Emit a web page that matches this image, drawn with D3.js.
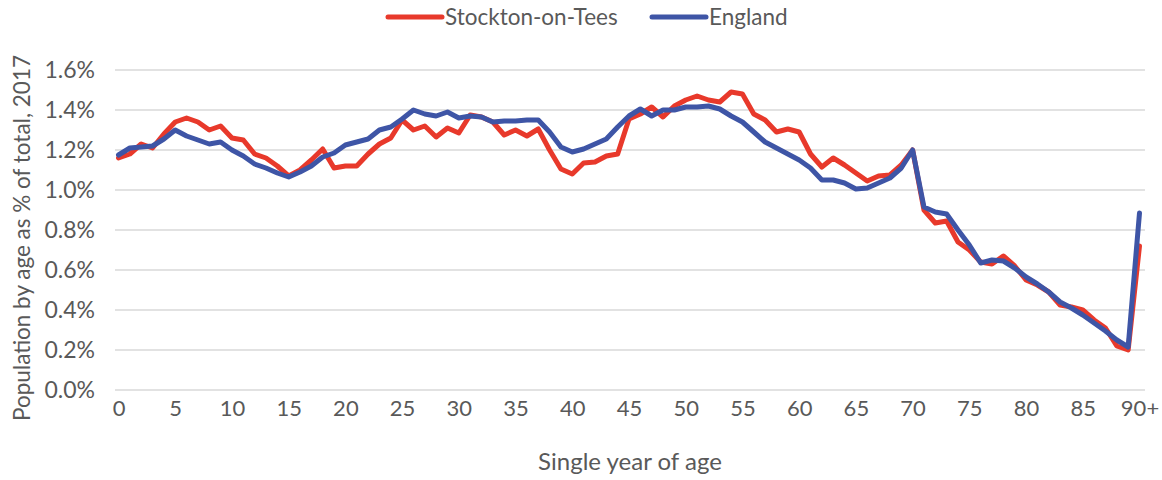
<!DOCTYPE html>
<html>
<head>
<meta charset="utf-8">
<script src="https://cdn.jsdelivr.net/npm/d3@7"></script>
<style>
  body { margin: 0; background: #fff; }
  text { font-family: Lato, "Open Sans", sans-serif; fill: #595959; }
</style>
</head>
<body>
<div id="chart"></div>
<script>
  // single year of age, 0 .. 90+
  var ages = d3.range(0, 91);

  var stockton = [
    1.16, 1.18, 1.23, 1.21, 1.28, 1.34, 1.36, 1.34, 1.30, 1.32,
    1.26, 1.25, 1.18, 1.16, 1.12, 1.07, 1.10, 1.15, 1.205, 1.11,
    1.12, 1.12, 1.18, 1.23, 1.26, 1.35, 1.30, 1.32, 1.265, 1.31,
    1.285, 1.375, 1.365, 1.34, 1.275, 1.30, 1.27, 1.305, 1.20, 1.105,
    1.08, 1.135, 1.14, 1.17, 1.18, 1.355, 1.38, 1.415, 1.365, 1.42,
    1.45, 1.47, 1.45, 1.44, 1.49, 1.48, 1.38, 1.35, 1.29, 1.305,
    1.29, 1.18, 1.115, 1.16, 1.125, 1.085, 1.045, 1.07, 1.075, 1.125,
    1.20, 0.90, 0.835, 0.845, 0.74, 0.70, 0.64, 0.63, 0.67, 0.62,
    0.55, 0.525, 0.49, 0.425, 0.415, 0.40, 0.35, 0.31, 0.22, 0.20,
    0.72
  ];

  var england = [
    1.175, 1.21, 1.215, 1.22, 1.255, 1.30, 1.27, 1.25, 1.23, 1.24,
    1.20, 1.17, 1.13, 1.11, 1.085, 1.065, 1.09, 1.12, 1.165, 1.185,
    1.225, 1.24, 1.255, 1.30, 1.315, 1.355, 1.40, 1.38, 1.37, 1.39,
    1.36, 1.37, 1.365, 1.34, 1.345, 1.345, 1.35, 1.35, 1.29, 1.215,
    1.19, 1.205, 1.23, 1.255, 1.315, 1.37, 1.405, 1.37, 1.40, 1.40,
    1.415, 1.415, 1.42, 1.405, 1.37, 1.34, 1.29, 1.24, 1.21, 1.18,
    1.15, 1.11, 1.05, 1.05, 1.035, 1.005, 1.01, 1.035, 1.06, 1.11,
    1.20, 0.915, 0.89, 0.88, 0.80, 0.725, 0.635, 0.65, 0.645, 0.61,
    0.565, 0.53, 0.49, 0.44, 0.41, 0.375, 0.335, 0.295, 0.25, 0.215,
    0.885
  ];

  var xTicks = [0, 5, 10, 15, 20, 25, 30, 35, 40, 45, 50, 55, 60, 65, 70, 75, 80, 85, 90];
  var xTickLabels = ['0', '5', '10', '15', '20', '25', '30', '35', '40', '45',
                     '50', '55', '60', '65', '70', '75', '80', '85', '90+'];
  var yTicks = [0, 0.2, 0.4, 0.6, 0.8, 1.0, 1.2, 1.4, 1.6];

  var series = [
    { name: 'Stockton-on-Tees', color: '#e8392b', values: stockton },
    { name: 'England', color: '#3e55a6', values: england }
  ];

  var width = 1162, height = 480;

  var svg = d3.select('#chart')
    .append('svg')
    .attr('width', width)
    .attr('height', height);

  var x = d3.scaleLinear().domain([0, 90]).range([118.5, 1139.5]);
  var y = d3.scaleLinear().domain([0, 1.6]).range([390, 70]);

  // gridlines
  svg.append('g')
    .selectAll('line')
    .data(yTicks)
    .enter().append('line')
    .attr('x1', 115)
    .attr('x2', 1145)
    .attr('y1', function(d) { return y(d); })
    .attr('y2', function(d) { return y(d); })
    .attr('stroke', '#d9d9d9')
    .attr('stroke-width', 1.5);

  // y axis labels
  var yAxis = d3.axisLeft(y)
    .tickValues(yTicks)
    .tickSize(0)
    .tickPadding(0)
    .tickFormat(function(d) { return d.toFixed(1) + '%'; });
  var gy = svg.append('g')
    .attr('transform', 'translate(95,0)')
    .call(yAxis);
  gy.select('.domain').remove();
  gy.selectAll('text')
    .style('font-size', '23px')
    .attr('fill', '#595959');

  // x axis labels
  var xAxis = d3.axisBottom(x)
    .tickValues(xTicks)
    .tickSize(0)
    .tickPadding(0)
    .tickFormat(function(d, i) { return xTickLabels[i]; });
  var gx = svg.append('g')
    .attr('transform', 'translate(0,400)')
    .call(xAxis);
  gx.select('.domain').remove();
  gx.selectAll('text')
    .style('font-size', '22px')
    .attr('fill', '#595959');

  // lines
  var line = d3.line()
    .x(function(d, i) { return x(ages[i]); })
    .y(function(d) { return y(d); });

  svg.append('g')
    .selectAll('path')
    .data(series)
    .enter().append('path')
    .attr('d', function(s) { return line(s.values); })
    .attr('fill', 'none')
    .attr('stroke', function(s) { return s.color; })
    .attr('stroke-width', 5)
    .attr('stroke-linejoin', 'round')
    .attr('stroke-linecap', 'round');

  // axis titles
  svg.append('text')
    .attr('x', 630)
    .attr('y', 470)
    .attr('text-anchor', 'middle')
    .style('font-size', '24px')
    .text('Single year of age');

  svg.append('text')
    .attr('transform', 'translate(30,238) rotate(-90)')
    .attr('text-anchor', 'middle')
    .style('font-size', '22.5px')
    .text('Population by age as % of total, 2017');

  // legend
  var legendX = [388, 652];
  var legend = svg.append('g')
    .selectAll('g')
    .data(series)
    .enter().append('g')
    .attr('transform', function(s, i) { return 'translate(' + legendX[i] + ',17)'; });
  legend.append('line')
    .attr('x1', 0).attr('x2', 54)
    .attr('stroke', function(s) { return s.color; })
    .attr('stroke-width', 5)
    .attr('stroke-linecap', 'round');
  legend.append('text')
    .attr('x', 57)
    .attr('y', 8)
    .style('font-size', '22.5px')
    .text(function(s) { return s.name; });
</script>
</body>
</html>
